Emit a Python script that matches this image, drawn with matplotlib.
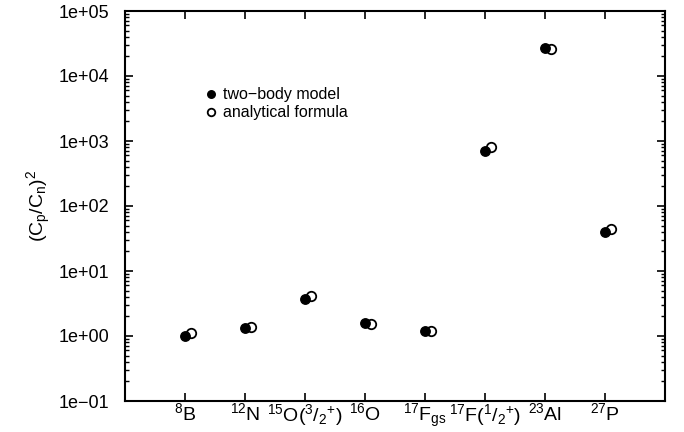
import matplotlib
matplotlib.use("Agg")
import matplotlib.pyplot as plt
from matplotlib.ticker import FixedLocator, LogLocator, FuncFormatter, NullFormatter

plt.rcParams['font.family'] = ['Liberation Sans', 'DejaVu Sans']
plt.rcParams['mathtext.fontset'] = 'custom'
plt.rcParams['mathtext.rm'] = 'Liberation Sans'
plt.rcParams['mathtext.it'] = 'Liberation Sans'
plt.rcParams['mathtext.default'] = 'rm'

# nuclei and ratios (C_p/C_n)^2
labels = [r"$^{8}$B", r"$^{12}$N", r"$^{15}$O($^{3}$/$_{2}$$^{+}$)", r"$^{16}$O",
          r"$^{17}$F$_{\rm gs}$", r"$^{17}$F($^{1}$/$_{2}$$^{+}$)", r"$^{23}$Al", r"$^{27}$P"]
positions = [1, 2, 3, 4, 5, 6, 7, 8]
two_body = [1.0, 1.31, 3.67, 1.57, 1.21, 710, 26700, 40.3]
analytical = [1.12, 1.36, 4.12, 1.51, 1.21, 798, 25700, 43.8]
offset = 0.1

fig = plt.figure(figsize=(6.84, 4.32), dpi=100)
ax = fig.add_axes([125 / 684, 31 / 432, 540 / 684, 390 / 432])

ax.plot([p + offset for p in positions], analytical, 'o', ls='none', ms=6.8,
        mfc='white', mec='black', mew=1.3, zorder=2, label='analytical formula')
ax.plot(positions, two_body, 'o', ls='none', ms=6.8, color='black',
        zorder=3, label='two\u2212body model')

ax.set_yscale('log')
ax.set_ylim(0.1, 1e5)
ax.set_xlim(0, 9)
ax.xaxis.set_major_locator(FixedLocator(positions))
ax.set_xticklabels(labels)
ax.yaxis.set_major_locator(LogLocator(base=10, numticks=10))
ax.yaxis.set_minor_locator(LogLocator(base=10, subs=range(2, 10), numticks=20))
ax.yaxis.set_minor_formatter(NullFormatter())
ax.yaxis.set_major_formatter(FuncFormatter(lambda v, p: f"{v:.0e}".replace('-', '\u2212')))

ax.tick_params(axis='both', which='both', direction='in', top=True, right=True)
ax.tick_params(axis='y', which='major', labelsize=13, pad=11)
ax.tick_params(axis='x', which='major', labelsize=14, pad=1)
ax.tick_params(axis='both', which='major', length=6, width=1.2)
ax.tick_params(axis='y', which='minor', length=3, width=1)
for s in ax.spines.values():
    s.set_linewidth(1.5)

ax.set_ylabel(r"(C$_p$/C$_n$)$^2$", fontsize=14, labelpad=4)

h, l = ax.get_legend_handles_labels()
ax.legend(h[::-1], l[::-1], loc='upper left', bbox_to_anchor=(0.135, 0.825), frameon=False,
          fontsize=11.5, handlelength=0.6, handletextpad=0.5, labelspacing=0.2,
          borderpad=0, markerscale=0.8)

fig.savefig("out.png", dpi=100)
